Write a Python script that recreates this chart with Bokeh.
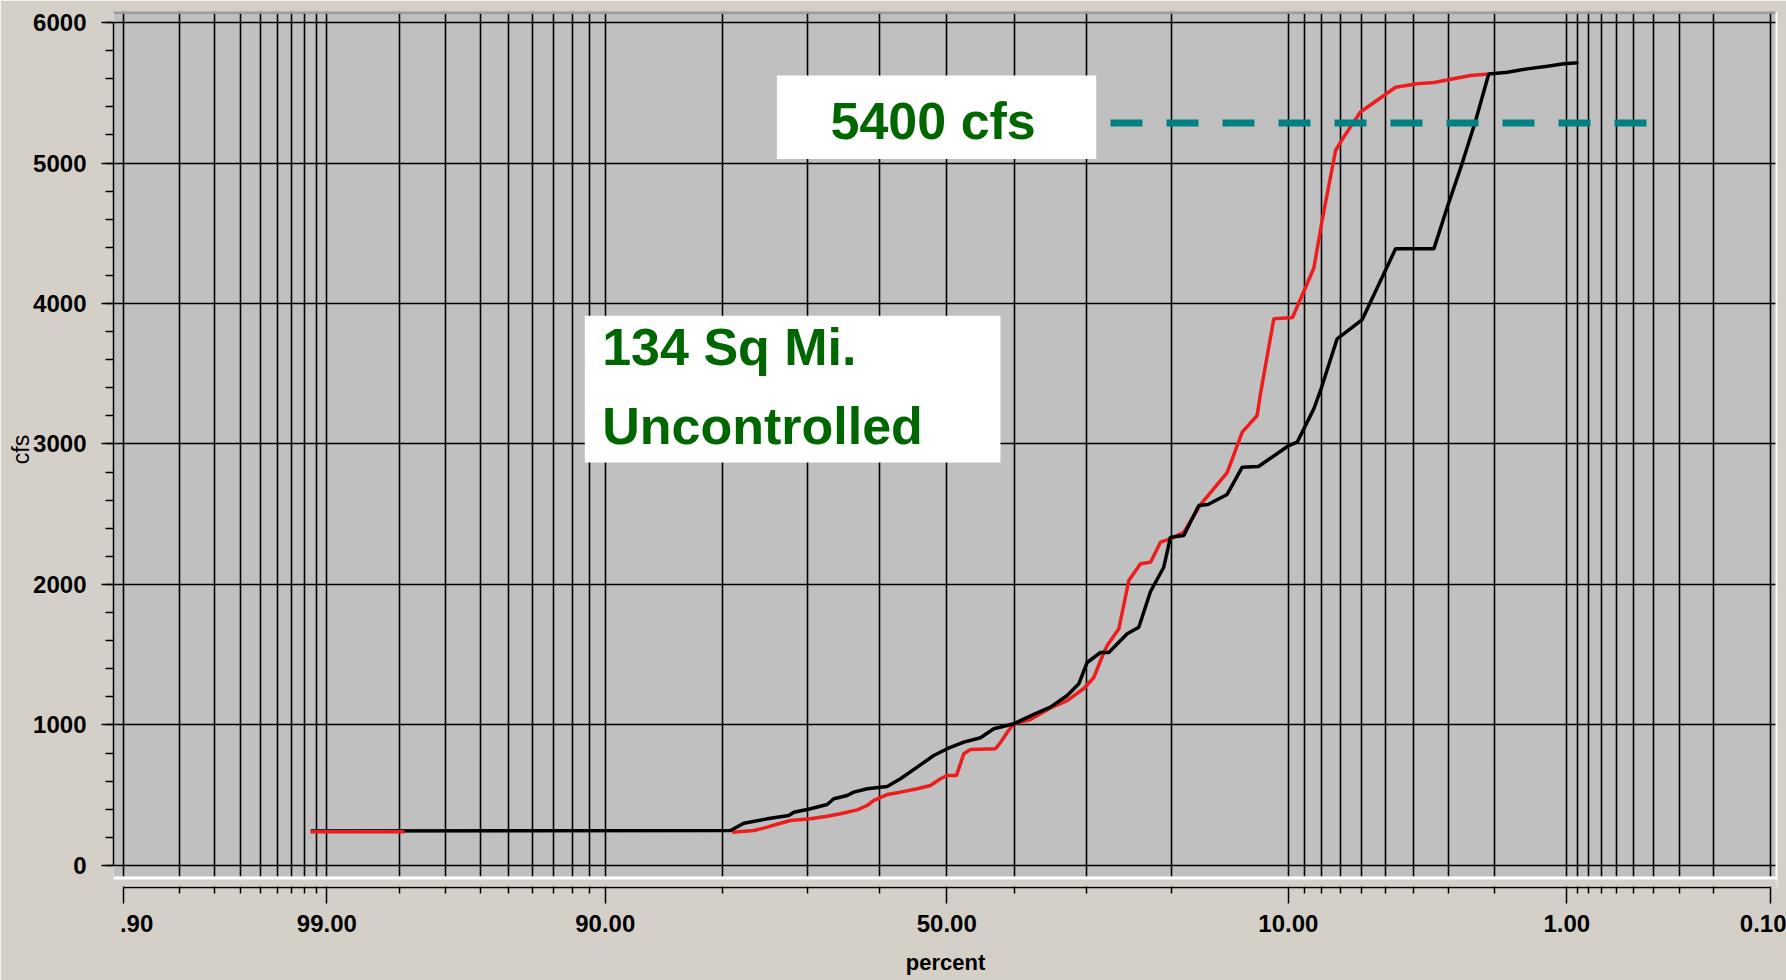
from statistics import NormalDist
from bokeh.plotting import figure
from bokeh.models import Range1d, FixedTicker, BoxAnnotation, Span, Label
from bokeh.embed import file_html
from bokeh.resources import INLINE

# ---------------- data (exceedance percent, cfs) ----------------
black_pct = [99.15, 79.15, 77.69, 74.98, 72.34, 71.70, 69.55, 67.32, 66.42, 64.57,
             63.65, 61.74, 58.85, 56.90, 54.42, 51.95, 49.94, 47.46, 44.97, 43.00,
             40.08, 37.20, 34.86, 32.57, 31.02, 29.92, 28.21, 27.16, 24.92, 23.56,
             22.23, 20.78, 20.06, 18.69, 17.22, 16.35, 14.64, 13.38, 12.11, 9.97,
             9.43, 8.42, 8.04, 7.15, 5.95, 4.61, 3.38, 3.02, 2.66, 2.36,
             2.10, 1.77, 1.47, 1.21, 1.03, 0.89]
black_cfs = [245, 249, 301, 332, 356, 379, 404, 434, 475, 498,
             522, 546, 562, 617, 700, 783, 831, 878, 909, 973,
             1009, 1075, 1127, 1210, 1293, 1445, 1516, 1516, 1649, 1696,
             1950, 2123, 2337, 2349, 2562, 2569, 2641, 2835, 2840, 2989,
             3013, 3251, 3381, 3749, 3886, 4389, 4389, 4685, 4994, 5302,
             5633, 5646, 5670, 5689, 5706, 5713]

red_low_pct = [99.15, 97.91]
red_low_cfs = [240, 240]

red_pct = [78.97, 76.55, 74.98, 73.37, 72.12, 69.55, 67.32, 65.50, 63.16, 61.74,
           60.79, 58.85, 56.90, 54.42, 52.44, 50.94, 49.94, 48.55, 47.46, 46.46,
           42.75, 42.02, 41.04, 40.08, 37.67, 34.86, 32.57, 30.36, 29.06, 27.79,
           27.36, 25.93, 24.73, 23.37, 22.23, 21.13, 20.06, 18.69, 17.05, 15.82,
           14.64, 13.38, 12.21, 11.96, 10.99, 9.73, 9.02, 8.42, 7.95, 7.23,
           6.82, 6.03, 4.61, 3.88, 3.38, 2.47, 2.10]
red_cfs = [237, 249, 273, 301, 320, 332, 351, 368, 396, 427,
           463, 505, 522, 546, 569, 617, 641, 641, 795, 826,
           831, 875, 947, 1009, 1039, 1121, 1174, 1260, 1338, 1516,
           1566, 1685, 2028, 2147, 2159, 2301, 2325, 2372, 2569, 2683,
           2797, 3084, 3203, 3357, 3891, 3900, 4085, 4253, 4591, 5089,
           5184, 5363, 5539, 5564, 5573, 5623, 5633]

threshold_cfs = 5285
threshold_pct = [26.95, 0.42]

major_pct = [99.9, 99.0, 90.0, 50.0, 10.0, 1.0, 0.1]
major_labels = [".90", "99.00", "90.00", "50.00", "10.00", "1.00", "0.10"]
minor_pct = [99.8, 99.7, 99.6, 99.5, 99.4, 99.3, 99.2, 99.1,
             98, 97, 96, 95, 94, 93, 92, 91,
             80, 70, 60, 40, 30, 20,
             9, 8, 7, 6, 5, 4, 3, 2,
             0.9, 0.8, 0.7, 0.6, 0.5, 0.4, 0.3, 0.2]
y_major = [0, 1000, 2000, 3000, 4000, 5000, 6000]
y_minor = list(range(0, 6001, 200))

ann_texts = ["5400 cfs", "134 Sq Mi.", "Uncontrolled"]

# ---------------- probability (normal) scale ----------------
ND = NormalDist()


def px(p):
    return ND.inv_cdf(1.0 - p / 100.0)


BG = "#d4d0c8"
PLOT_BG = "#c0c0c0"
SANS = "Liberation Sans"
GREEN = "#006600"
RED = "#ee1c1c"

x_lo, x_hi = -3.1268, 3.1171
y_lo, y_hi = -156.6, 6078.3

p = figure(width=1786, height=980, output_backend="svg", toolbar_location=None,
           x_range=Range1d(x_lo, x_hi), y_range=Range1d(y_lo, y_hi),
           min_border_left=113, min_border_right=9, min_border_top=11,
           min_border_bottom=93,
           background_fill_color=PLOT_BG, border_fill_color=BG,
           outline_line_color=None)

# x axis (probability)
ax = p.xaxis[0]
ax.ticker = FixedTicker(ticks=[px(v) for v in major_pct],
                        minor_ticks=[px(v) for v in minor_pct])
shown = list(major_labels)
shown[0] = "\u2007\u2007" + shown[0]
ax.major_label_overrides = {px(v): lab for v, lab in zip(major_pct, shown)}
ax.bounds = (px(major_pct[0]), px(major_pct[-1]))
ax.axis_line_color = "black"
ax.axis_line_width = 1.5
ax.major_tick_out = 16
ax.major_tick_in = 0
ax.minor_tick_out = 6
ax.minor_tick_in = 0
ax.major_tick_line_width = 1.5
ax.minor_tick_line_width = 1.5
ax.major_tick_line_color = "black"
ax.minor_tick_line_color = "black"
ax.major_label_text_font = SANS
ax.major_label_text_font_size = "24px"
ax.major_label_text_font_style = "bold"
ax.major_label_text_color = "black"
ax.major_label_standoff = 6
ax.axis_label = "percent"
ax.axis_label_text_font = SANS
ax.axis_label_text_font_size = "22px"
ax.axis_label_text_font_style = "bold"
ax.axis_label_text_color = "black"
ax.axis_label_standoff = 10

# y axis
ay = p.yaxis[0]
ay.ticker = FixedTicker(ticks=y_major, minor_ticks=y_minor)
ay.bounds = (y_major[0], y_major[-1])
ay.axis_line_color = "black"
ay.axis_line_width = 1.5
ay.major_tick_out = 12
ay.major_tick_in = 0
ay.minor_tick_out = 8
ay.minor_tick_in = 0
ay.major_tick_line_width = 1.5
ay.minor_tick_line_width = 1.5
ay.major_tick_line_color = "black"
ay.minor_tick_line_color = "black"
ay.major_label_text_font = SANS
ay.major_label_text_font_size = "24px"
ay.major_label_text_font_style = "bold"
ay.major_label_text_color = "black"
ay.major_label_standoff = 15
ay.axis_label = "cfs"
ay.axis_label_text_font = SANS
ay.axis_label_text_font_size = "23px"
ay.axis_label_text_font_style = "normal"
ay.axis_label_text_color = "black"
ay.axis_label_standoff = -4

# grids
p.xgrid.grid_line_color = "black"
p.xgrid.grid_line_width = 1.6
p.xgrid.minor_grid_line_color = "black"
p.xgrid.minor_grid_line_width = 1.6
p.ygrid.grid_line_color = "black"
p.ygrid.grid_line_width = 1.6

# data lines
p.line([px(v) for v in red_pct], red_cfs, line_color=RED, line_width=3.5)
p.line([px(v) for v in black_pct], black_cfs, line_color="black", line_width=3.5)
p.line([px(v) for v in red_low_pct], red_low_cfs, line_color=RED, line_width=3.5)

# threshold dashed line
p.line([px(v) for v in threshold_pct], [threshold_cfs, threshold_cfs],
       line_color="#008080", line_width=7, line_dash="32 24")

# panel bevel and strip under plot area
p.add_layout(Span(location=y_hi, dimension="width", line_color="#9a9a9a", line_width=5))
p.add_layout(Span(location=x_hi, dimension="height", line_color="white", line_width=4))
p.add_layout(BoxAnnotation(top=-78.3, bottom=y_lo + 8, fill_color=BG, fill_alpha=1.0,
                           line_color=None, level="overlay"))
p.add_layout(Span(location=-89, dimension="width", line_color="white", line_width=3,
                  level="overlay"))

# annotation boxes
p.add_layout(BoxAnnotation(left=px(73.81), right=px(28.75), top=5623, bottom=5028,
                           fill_color="white", fill_alpha=1.0, line_color=None))
p.add_layout(BoxAnnotation(left=px(91.28), right=px(42.02), top=3912, bottom=2868,
                           fill_color="white", fill_alpha=1.0, line_color=None))

for (xp, yv), txt in zip([(66.87, 5298), (90.2, 3690), (90.2, 3125)], ann_texts):
    p.add_layout(Label(x=px(xp), y=yv, text=txt, text_font=SANS,
                       text_font_size="52px", text_font_style="bold",
                       text_color=GREEN, text_align="left",
                       text_baseline="alphabetic"))

open("out.html", "w").write(file_html(p, INLINE, title="cfs exceedance"))
